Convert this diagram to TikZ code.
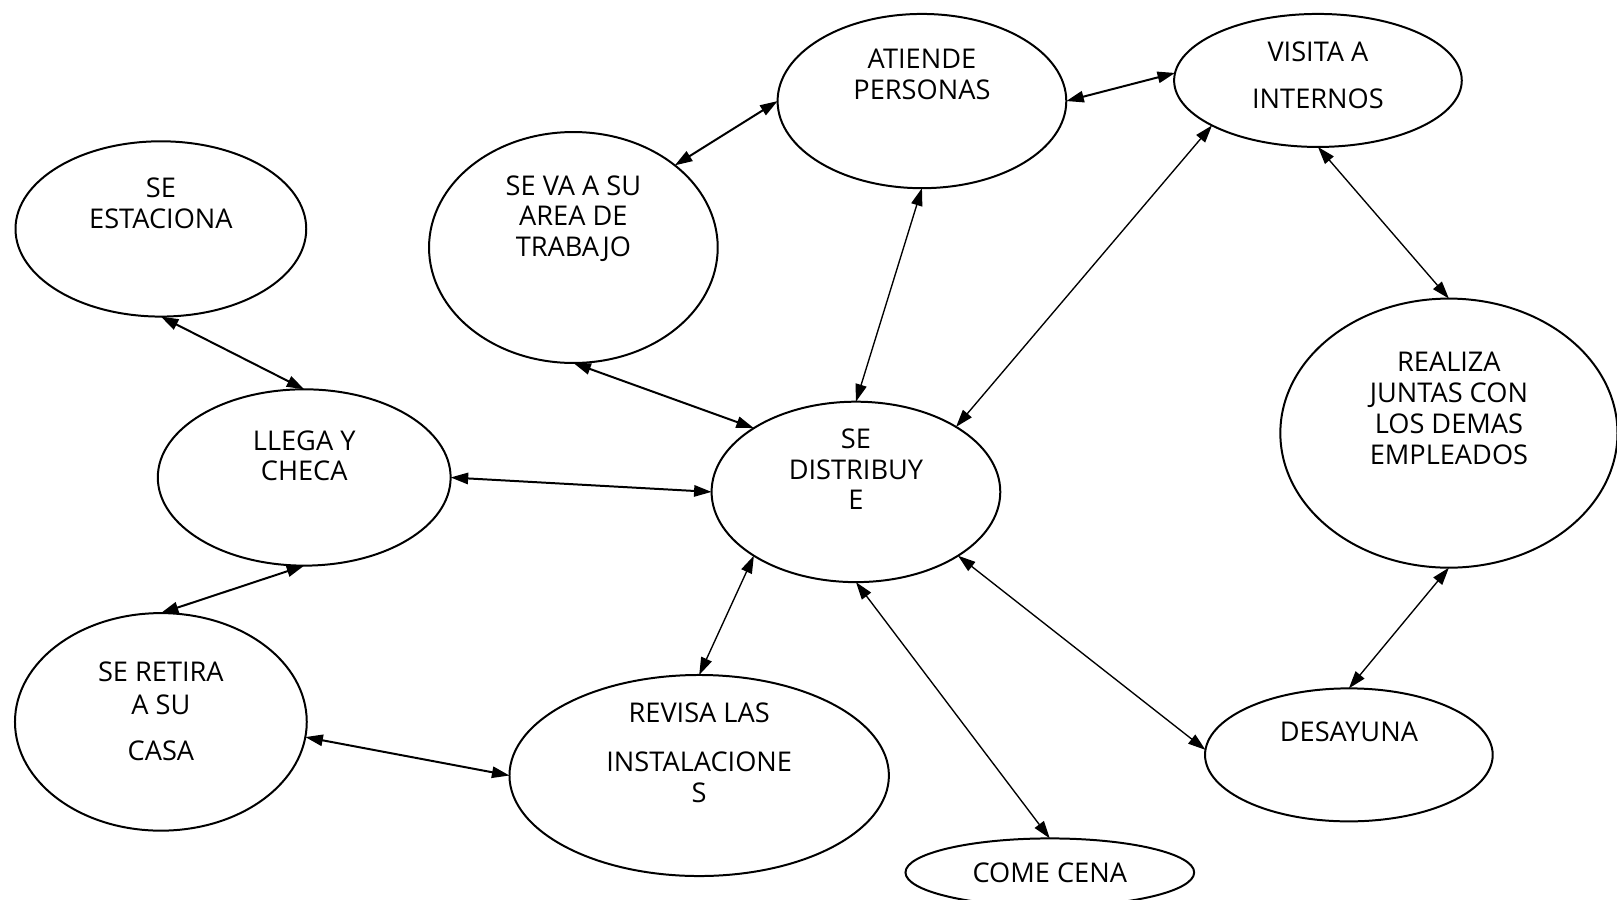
\documentclass[tikz,border=0pt]{standalone}
\usepackage{fontspec}
\setmainfont{Open Sans}
\usetikzlibrary{shapes.geometric,arrows.meta}

\begin{document}
\begin{tikzpicture}[x=0.02cm,y=-0.02cm,
    bub/.style={draw,ellipse,line width=1.1pt,inner sep=0pt,outer sep=0pt},
    lbl/.style={align=center,font=\fontsize{15}{17}\selectfont,inner sep=0pt},
    link/.style={<->,>={Triangle[length=0.34cm,width=0.22cm]},line width=1.1pt},
    thinlink/.style={link,line width=0.75pt}]
  \clip (0,0) rectangle (1568,872);
  \fill[white] (0,0) rectangle (1568,872);

  % bubbles
  \node[bub,minimum width=5.64cm,minimum height=3.4cm] (est) at (156,222) {};
  \node[bub,minimum width=5.6cm,minimum height=4.48cm] (seva) at (556,240) {};
  \node[bub,minimum width=5.6cm,minimum height=3.38cm] (atiende) at (894,98) {};
  \node[bub,minimum width=5.58cm,minimum height=2.58cm] (visita) at (1278,78) {};
  \node[bub,minimum width=6.54cm,minimum height=5.22cm] (realiza) at (1405,420) {};
  \node[bub,minimum width=5.68cm,minimum height=3.42cm] (llega) at (295,463) {};
  \node[bub,minimum width=5.6cm,minimum height=3.5cm] (distr) at (830,477) {};
  \node[bub,minimum width=5.66cm,minimum height=4.22cm] (retira) at (156,700) {};
  \node[bub,minimum width=7.36cm,minimum height=3.9cm] (revisa) at (678,752) {};
  \node[bub,minimum width=5.58cm,minimum height=2.58cm] (desayuna) at (1308,732) {};
  \node[bub,minimum width=5.6cm,minimum height=1.32cm] (come) at (1018,846) {};

  % texts
  \node[lbl] (est-t) at (156,197) {SE\\ESTACIONA};
  \node[lbl] (seva-t) at (556,212) {SE VA A SU\\AREA DE\\TRABAJO};
  \node[lbl] (atiende-t) at (894,72) {ATIENDE\\PERSONAS};
  \node[lbl] (visita-t) at (1278,73) {VISITA A\\[0.32cm]INTERNOS};
  \node[lbl] (realiza-t) at (1405,396) {REALIZA\\JUNTAS CON\\LOS DEMAS\\EMPLEADOS};
  \node[lbl] (llega-t) at (295,442) {LLEGA Y\\CHECA};
  \node[lbl] (distr-t) at (830,455) {SE\\DISTRIBUY\\E};
  \node[lbl] (retira-t) at (156,690) {SE RETIRA\\[0.04cm]A SU\\[0.3cm]CASA};
  \node[lbl] (revisa-t) at (678,730) {REVISA LAS\\[0.34cm]INSTALACIONE\\S};
  \node[lbl] (desayuna-t) at (1308,710) {DESAYUNA};
  \node[lbl] (come-t) at (1018,846) {COME CENA};

  % links
  \draw[link] (est.south) -- (llega.north);
  \draw[link] (seva.39) -- (atiende.west);
  \draw[link] (atiende.east) -- (visita.177);
  \draw[link] (seva.south) -- (distr.148);
  \draw[link] (llega.east) -- (distr.west);
  \draw[link] (llega.south) -- (retira.north);
  \draw[link] (retira.-6) -- (revisa.west);
  \draw[thinlink] (atiende.south) -- (distr.north);
  \draw[thinlink] (visita.203) -- (distr.33);
  \draw[thinlink] (visita.south) -- (realiza.north);
  \draw[thinlink] (realiza.south) -- (desayuna.north);
  \draw[thinlink] (revisa.north) -- (distr.212);
  \draw[thinlink] (distr.south) -- (come.north);
  \draw[thinlink] (distr.-32) -- (desayuna.178);
\end{tikzpicture}
\end{document}
